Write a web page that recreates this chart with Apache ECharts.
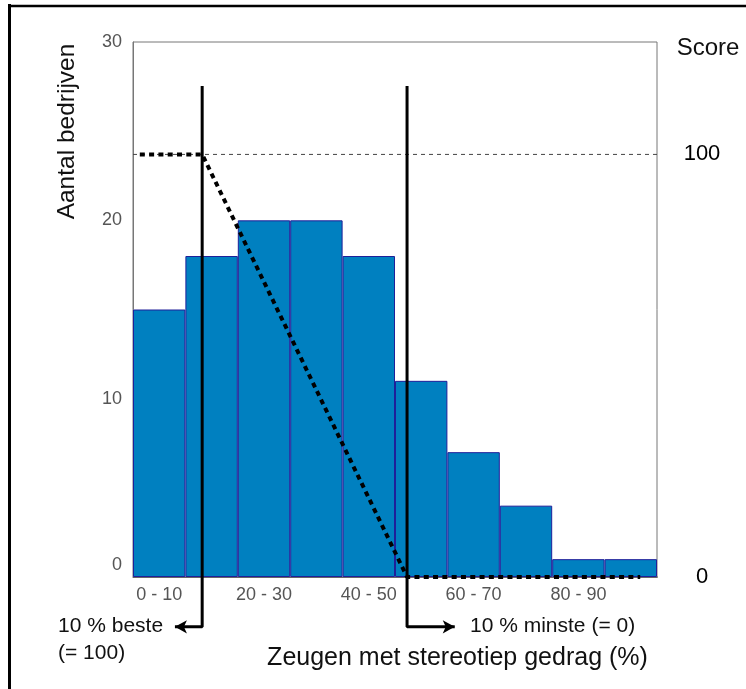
<!DOCTYPE html>
<html>
<head>
<meta charset="utf-8">
<script src="https://cdn.jsdelivr.net/npm/echarts@6/dist/echarts.min.js"></script>
<style>
html,body{margin:0;padding:0;background:#fff;}
#chart{width:746px;height:689px;}
</style>
</head>
<body>
<div id="chart"></div>
<script>
// ---- data ----
const categories = ['0 - 10','10 - 20','20 - 30','30 - 40','40 - 50','50 - 60','60 - 70','70 - 80','80 - 90','90 - 100'];
const companies = [15, 18, 20, 20, 18, 11, 7, 4, 1, 1];
const leftTicks = [0, 10, 20, 30];
const scoreTicks = [0, 100];
// score curve (x in % of range, y in score)
const scoreCurveX = [1.3, 13.2, 52.3, 96.8];
const scoreCurveY = [100, 100, 0, 0];
const referenceLineX = [0, 101.1];
const referenceLineY = [100, 100];
// cut-off markers: vertical line then arrow at bottom
const bestMarkerX = [13.2, 13.2, 8.0];
const bestMarkerY = [116.2, -11.8, -11.8];
const worstMarkerX = [52.3, 52.3, 61.4];
const worstMarkerY = [116.2, -11.8, -11.8];
const axisExtX = [100, 103.1];
const axisExtY = [0, 0];

const chart = echarts.init(document.getElementById('chart'), null, {renderer: 'canvas'});
const font = 'Liberation Sans, Arial, sans-serif';
const pairs = (xs, ys) => xs.map((x, i) => [x, ys[i]]);
const arrowPath = (xs, ys, rot) => xs.map((x, i) => i === xs.length - 1
  ? {value: [x, ys[i]], symbol: 'arrow', symbolSize: [10, 12], symbolRotate: rot}
  : {value: [x, ys[i]], symbol: 'none'});

chart.setOption({
  animation: false,
  backgroundColor: '#ffffff',
  grid: {left: 133, right: 89, top: 42, bottom: 112, show: true, borderColor: '#777', borderWidth: 1, backgroundColor: 'transparent'},
  xAxis: [{
    type: 'category',
    data: categories,
    position: 'bottom',
    axisLine: {show: true, lineStyle: {color: '#666', width: 1}},
    axisTick: {show: false},
    axisLabel: {interval: 1, color: '#555', fontSize: 18, fontFamily: font, margin: 9},
    name: 'Zeugen met stereotiep gedrag (%)',
    nameLocation: 'middle',
    nameGap: 69,
    nameTextStyle: {color: '#111', fontSize: 25, fontFamily: font, padding: [0, 0, 0, 125]}
  }, {
    type: 'value', min: 0, max: 100, show: false
  }],
  yAxis: [{
    type: 'value', min: 0, max: 30, interval: 10, position: 'left',
    axisLine: {show: true, lineStyle: {color: '#777'}},
    axisTick: {show: false},
    splitLine: {show: false},
    axisLabel: {
      color: '#555', fontSize: 18, fontFamily: font, margin: 11,
      formatter: v => leftTicks.includes(v) ? (v === 0 ? '{z|0}' : String(v)) : '',
      rich: {z: {color: '#555', fontSize: 18, fontFamily: font, padding: [0, 0, 24, 0]}}
    },
    name: 'Aantal bedrijven',
    nameLocation: 'middle',
    nameRotate: 90,
    nameGap: 53,
    nameTextStyle: {color: '#111', fontSize: 24.5, fontFamily: font, padding: [0, 0, 0, 356]}
  }, {
    type: 'value', min: 0, max: 126.6, interval: 100, position: 'right',
    axisLine: {show: false}, axisTick: {show: false}, splitLine: {show: false},
    axisLabel: {
      color: '#000', fontSize: 22, fontFamily: font, margin: 45, align: 'center',
      formatter: v => scoreTicks.includes(v) ? String(v) : ''
    },
    name: 'Score',
    nameLocation: 'end',
    nameGap: -6,
    nameTextStyle: {color: '#111', fontSize: 24, fontFamily: font, align: 'center', verticalAlign: 'middle', padding: [0, 0, 0, 102]}
  }],
  series: [{
    type: 'bar',
    data: companies,
    xAxisIndex: 0, yAxisIndex: 0,
    barCategoryGap: 0,
    itemStyle: {color: '#0080c0', borderColor: '#1f1f99', borderWidth: 1},
    silent: true
  }, {
    type: 'line',
    xAxisIndex: 1, yAxisIndex: 1,
    data: pairs(axisExtX, axisExtY),
    symbol: 'none', clip: false, silent: true,
    lineStyle: {color: '#666', width: 1}
  }, {
    type: 'line',
    xAxisIndex: 1, yAxisIndex: 1,
    data: pairs(referenceLineX, referenceLineY),
    symbol: 'none', clip: false, silent: true,
    lineStyle: {color: '#444', width: 1, type: [4, 4]}
  }, {
    type: 'line',
    xAxisIndex: 1, yAxisIndex: 1,
    data: pairs(scoreCurveX, scoreCurveY),
    symbol: 'none', clip: false, silent: true,
    lineStyle: {color: '#000', width: 4, type: [5, 4.3], cap: 'butt'}
  }, {
    type: 'line',
    xAxisIndex: 1, yAxisIndex: 1,
    data: arrowPath(bestMarkerX, bestMarkerY, 90),
    showSymbol: true, showAllSymbol: true,
    clip: false, silent: true,
    itemStyle: {color: '#000'},
    lineStyle: {color: '#000', width: 3}
  }, {
    type: 'line',
    xAxisIndex: 1, yAxisIndex: 1,
    data: arrowPath(worstMarkerX, worstMarkerY, -90),
    showSymbol: true, showAllSymbol: true,
    clip: false, silent: true,
    itemStyle: {color: '#000'},
    lineStyle: {color: '#000', width: 3}
  }],
  graphic: [
    {type: 'line', shape: {x1: 9.5, y1: 4, x2: 9.5, y2: 689}, style: {stroke: '#000', lineWidth: 3}, silent: true},
    {type: 'line', shape: {x1: 8, y1: 6, x2: 746, y2: 6}, style: {stroke: '#000', lineWidth: 2.5}, silent: true},
    {type: 'text', x: 58, y: 626, style: {text: '10 % beste', fill: '#111', font: '21px ' + font, textVerticalAlign: 'middle'}, silent: true},
    {type: 'text', x: 58, y: 653, style: {text: '(= 100)', fill: '#111', font: '21px ' + font, textVerticalAlign: 'middle'}, silent: true},
    {type: 'text', x: 470, y: 626, style: {text: '10 % minste (= 0)', fill: '#111', font: '21px ' + font, textVerticalAlign: 'middle'}, silent: true}
  ]
});
</script>
</body>
</html>
